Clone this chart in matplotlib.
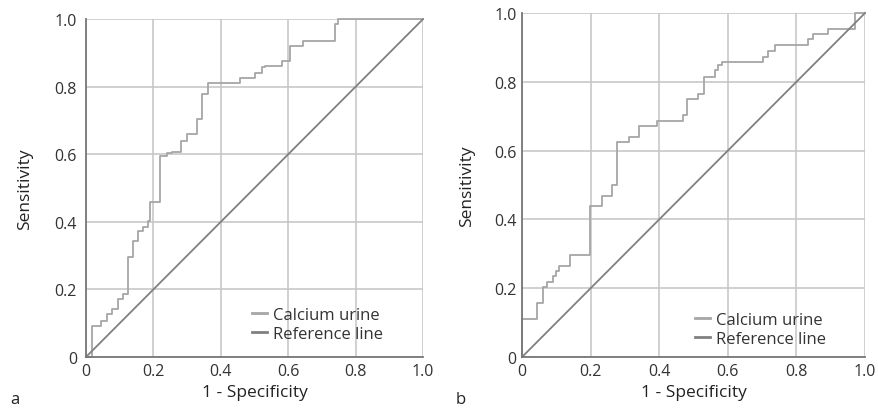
import numpy as np
import matplotlib.pyplot as plt

# ROC step points (1 - specificity, sensitivity)
fpr_a = [0.0, 0.017, 0.017, 0.046, 0.046, 0.061, 0.061, 0.078, 0.078, 0.096, 0.096,
         0.111, 0.111, 0.126, 0.126, 0.14, 0.14, 0.155, 0.155, 0.17, 0.17, 0.185, 0.185,
         0.19, 0.19, 0.22, 0.22, 0.239, 0.239, 0.254, 0.254, 0.282, 0.282, 0.299, 0.299,
         0.328, 0.328, 0.343, 0.343, 0.363, 0.363, 0.378, 0.457, 0.457, 0.501, 0.501,
         0.521, 0.521, 0.531, 0.531, 0.581, 0.581, 0.605, 0.605, 0.645, 0.645, 0.739,
         0.739, 0.749, 0.749, 1.0]
tpr_a = [0.0, 0.0, 0.093, 0.093, 0.107, 0.107, 0.127, 0.127, 0.142, 0.142, 0.172,
         0.172, 0.186, 0.186, 0.296, 0.296, 0.344, 0.344, 0.374, 0.374, 0.385, 0.385, 0.403,
         0.403, 0.459, 0.459, 0.596, 0.596, 0.605, 0.605, 0.607, 0.607, 0.64, 0.64, 0.66,
         0.66, 0.704, 0.704, 0.778, 0.778, 0.81, 0.81, 0.81, 0.827, 0.827, 0.842,
         0.842, 0.857, 0.857, 0.86, 0.86, 0.877, 0.877, 0.92, 0.92, 0.936, 0.936,
         0.985, 0.985, 1.0, 1.0]

fpr_b = [0.0, 0.0, 0.045, 0.045, 0.06, 0.06, 0.072, 0.072, 0.091, 0.091, 0.099, 0.099,
         0.109, 0.109, 0.14, 0.14, 0.198, 0.198, 0.232, 0.232, 0.262, 0.262, 0.278,
         0.278, 0.313, 0.313, 0.342, 0.342, 0.393, 0.393, 0.469, 0.469, 0.482, 0.482,
         0.514, 0.514, 0.531, 0.531, 0.563, 0.563, 0.572, 0.572, 0.582, 0.582, 0.703,
         0.703, 0.718, 0.718, 0.738, 0.738, 0.835, 0.835, 0.847, 0.847, 0.893, 0.893,
         0.971, 0.971, 1.0]
tpr_b = [0.0, 0.11, 0.11, 0.156, 0.156, 0.203, 0.203, 0.217, 0.217, 0.235, 0.235, 0.251,
         0.251, 0.265, 0.265, 0.297, 0.297, 0.44, 0.44, 0.469, 0.469, 0.5, 0.5, 0.626,
         0.626, 0.641, 0.641, 0.672, 0.672, 0.687, 0.687, 0.703, 0.703, 0.75, 0.75,
         0.765, 0.765, 0.813, 0.813, 0.833, 0.833, 0.848, 0.848, 0.859, 0.859, 0.871,
         0.871, 0.89, 0.89, 0.907, 0.907, 0.924, 0.924, 0.939, 0.939, 0.955, 0.955,
         1.0, 1.0]

ticks = [0, 0.2, 0.4, 0.6, 0.8, 1.0]
tick_labels = ["0", "0.2", "0.4", "0.6", "0.8", "1.0"]

plt.rcParams['font.family'] = ['Open Sans', 'DejaVu Sans']

fig = plt.figure(figsize=(8.79, 4.10), dpi=100)
ax_a = fig.add_axes([0.0978, 0.1268, 0.3834, 0.824])
ax_b = fig.add_axes([0.5939, 0.1268, 0.3902, 0.839])

# axis, x, y, legend anchor, letter, letter x, y tick pad, y label pad
panels = [(ax_a, fpr_a, tpr_a, (0.493, 0.045), "a", 0.012, 6.5, 15.5),
          (ax_b, fpr_b, tpr_b, (0.505, 0.03), "b", 0.518, 4, 14)]

for ax, fx, ty, leg_pos, letter, lx, ypad, ylpad in panels:
    ax.set_xlim(0, 1)
    ax.set_ylim(0, 1)
    ax.set_xticks(ticks)
    ax.set_xticklabels(tick_labels)
    ax.set_yticks(ticks)
    ax.set_yticklabels(tick_labels)
    ax.tick_params(length=0, labelsize=11.5, colors='#333333')
    ax.tick_params(axis='x', pad=4)
    ax.tick_params(axis='y', pad=ypad)
    ax.grid(True, color='#c4c4c4', linewidth=1.1)
    ax.set_axisbelow(True)
    for s in ['top', 'right']:
        ax.spines[s].set_visible(False)
    for s in ['left', 'bottom']:
        ax.spines[s].set_color('#777777')
        ax.spines[s].set_linewidth(1.3)

    ax.plot(fx, ty, color='#a6a6a6', linewidth=1.3, clip_on=False,
            label='Calcium urine')
    ax.plot([0, 1], [0, 1], color='#808080', linewidth=1.3, clip_on=False,
            label='Reference line')

    ax.set_xlabel("1 - Specificity", fontsize=12.5, color='#222222', labelpad=4)
    ax.set_ylabel("Sensitivity", fontsize=12.5, color='#222222', labelpad=ylpad)
    leg = ax.legend(loc='lower left', bbox_to_anchor=leg_pos, frameon=False,
                    borderaxespad=0, borderpad=0, fontsize=12, handlelength=0.9,
                    handletextpad=0.35, labelspacing=0.15, labelcolor='#333333')
    for h in leg.get_lines():
        h.set_linewidth(2)
    fig.text(lx, 0.015, letter, fontsize=12, color='#222222')

fig.savefig("out.png", dpi=100)
